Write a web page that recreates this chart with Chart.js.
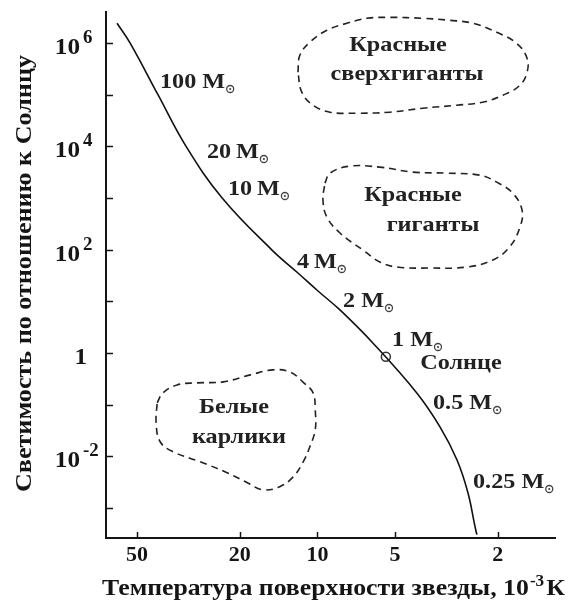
<!DOCTYPE html>
<html>
<head>
<meta charset="utf-8">
<script src="https://cdn.jsdelivr.net/npm/chart.js@4.4.1/dist/chart.umd.min.js"></script>
<style>
  html, body { margin: 0; padding: 0; background: #fff; }
</style>
</head>
<body>
<canvas id="hrChart" width="569" height="602"></canvas>
<script>
// main sequence: surface temperature (10^3 K) and luminosity (L sun)
const msTemp = [59.8, 53.2, 41.5, 32.3, 23.4, 15.0, 11.9, 9.95, 8.18, 6.10, 4.12, 3.35, 2.88, 2.61, 2.45, 2.41];
const msLum = [2.42e6, 1e6, 1e5, 1e4, 1e3, 98, 35.3, 15.8, 6.79, 1.56, 0.168, 0.037, 0.00852, 0.00196, 0.000431, 0.000302];

// the Sun
const sunTemp = [5.43];
const sunLum = [0.84];

// outlines of the giant / dwarf regions
const superTemp = [11.9, 11.7, 10.7, 9.19, 7.69, 6.43, 5.24, 3.90, 3.07, 2.50, 2.02, 1.69, 1.54, 1.54, 1.64, 1.91, 2.29, 2.88, 3.90, 5.24, 7.03, 8.94, 10.4, 11.5, 11.9];
const superLum = [2.72e5, 5.8e5, 1.04e6, 1.77e6, 2.42e6, 3.02e6, 3.15e6, 3.02e6, 2.76e6, 2.42e6, 1.62e6, 9.9e5, 5.08e5, 2.72e5, 1.53e5, 9.8e4, 7.16e4, 6.27e4, 5.48e4, 4.59e4, 4.39e4, 4.59e4, 6.27e4, 1.12e5, 2.72e5];

const giantTemp = [9.35, 8.94, 7.48, 5.73, 4.27, 3.15, 2.35, 2.02, 1.75, 1.61, 1.64, 1.80, 2.09, 2.64, 3.67, 4.92, 5.73, 6.66, 8.18, 9.19, 9.52, 9.35];
const giantLum = [1940, 3030, 4140, 3960, 3170, 3030, 2770, 2030, 1240, 583, 274, 112, 63, 46, 44, 46, 57.5, 98, 210, 427, 911, 1940];

const dwarfTemp = [41.8, 39.7, 35.0, 29.3, 23.2, 18.2, 14.9, 12.8, 11.4, 10.4, 10.2, 10.2, 10.7, 11.4, 12.4, 14.0, 16.3, 18.7, 22.4, 28.5, 36.3, 40.7, 42.2, 41.8];
const dwarfLum = [0.108, 0.168, 0.240, 0.263, 0.275, 0.375, 0.469, 0.429, 0.275, 0.168, 0.079, 0.0324, 0.0152, 0.00746, 0.0040, 0.00256, 0.00224, 0.00306, 0.00478, 0.0078, 0.0122, 0.019, 0.0443, 0.108];

// axes
const xTickValues = [50, 20, 10, 5, 2];
const yTickValues = [1e-3, 1e-2, 1e-1, 1, 1e1, 1e2, 1e3, 1e4, 1e5, 1e6];

// text
const massLabels = ['100 M', '20\u2009M', '10\u2009M', '4\u2009M', '2 M', '1 M', '0.5 M', '0.25 M'];
const regionNames = [['Красные', 'сверхгиганты'], ['Красные', 'гиганты'], ['Белые', 'карлики']];
const sunName = 'Солнце';
const yTitle = 'Светимость по отношению к Солнцу';
const xTitle = 'Температура поверхности звезды, 10';

const pts = (xs, ys) => xs.map((x, i) => ({ x: x, y: ys[i] }));
const FONT = '"Liberation Serif", "Times New Roman", serif';
const INK = '#151515';

function drawStretched(ctx, s, x, y, size, align, sx, color) {
  ctx.save();
  ctx.font = 'bold ' + size + 'px ' + FONT;
  ctx.fillStyle = color || INK;
  ctx.textAlign = 'left';
  ctx.textBaseline = 'alphabetic';
  const w = ctx.measureText(s).width * sx;
  const left = align === 'center' ? x - w / 2 : (align === 'right' ? x - w : x);
  ctx.translate(left, y);
  ctx.scale(sx, 1);
  ctx.fillText(s, 0, 0);
  ctx.restore();
  return left + w;
}

function sunSymbol(ctx, x, y) {
  ctx.save();
  ctx.strokeStyle = '#444';
  ctx.fillStyle = '#444';
  ctx.lineWidth = 1.3;
  ctx.beginPath();
  ctx.arc(x, y, 3.5, 0, Math.PI * 2);
  ctx.stroke();
  ctx.beginPath();
  ctx.arc(x, y, 1.1, 0, Math.PI * 2);
  ctx.fill();
  ctx.restore();
}

const decor = {
  id: 'decor',
  afterDraw(chart) {
    const ctx = chart.ctx;
    const xs = chart.scales.x, ys = chart.scales.y;
    const area = chart.chartArea;

    // inward tick marks
    ctx.save();
    ctx.strokeStyle = INK;
    ctx.lineWidth = 1.5;
    yTickValues.forEach(v => {
      const y = Math.round(ys.getPixelForValue(v)) + 0.5;
      ctx.beginPath();
      ctx.moveTo(area.left, y);
      ctx.lineTo(area.left + 7, y);
      ctx.stroke();
    });
    xTickValues.forEach(v => {
      const x = Math.round(xs.getPixelForValue(v)) + 0.5;
      ctx.beginPath();
      ctx.moveTo(x, area.bottom);
      ctx.lineTo(x, area.bottom - 6);
      ctx.stroke();
    });
    ctx.restore();

    // y tick labels: 10^n for even n
    yTickValues.forEach(v => {
      const exp = Math.round(Math.log10(v));
      if (exp % 2 !== 0) return;
      const y = ys.getPixelForValue(v);
      if (exp === 0) {
        drawStretched(ctx, '1', 87, y + 11, 24, 'right', 1.05);
      } else {
        drawStretched(ctx, '10', 80, y + 11, 24, 'right', 1.05);
        drawStretched(ctx, String(exp), 83, y, 18, 'left', 1.05);
      }
    });

    // axis titles
    ctx.save();
    ctx.font = 'bold 24px ' + FONT;
    const yw = ctx.measureText(yTitle).width;
    ctx.translate(31, 273.5);
    ctx.rotate(-Math.PI / 2);
    ctx.scale(437 / yw, 1);
    ctx.fillStyle = INK;
    ctx.textAlign = 'center';
    ctx.fillText(yTitle, 0, 0);
    ctx.restore();

    ctx.save();
    ctx.font = 'bold 24px ' + FONT;
    const w1 = ctx.measureText(xTitle).width;
    const wK = ctx.measureText('К').width;
    ctx.font = 'bold 16px ' + FONT;
    const wSup = ctx.measureText('-3').width;
    const sx = 463 / (w1 + wSup + 3 + wK);
    ctx.translate(102, 595);
    ctx.scale(sx, 1);
    ctx.fillStyle = INK;
    ctx.font = 'bold 24px ' + FONT;
    ctx.fillText(xTitle, 0, 0);
    ctx.fillText('К', w1 + wSup + 3, 0);
    ctx.font = 'bold 16px ' + FONT;
    ctx.fillText('-3', w1 + 1, -9);
    ctx.restore();

    // mass labels along the main sequence
    const massPos = [[160, 88], [207, 158], [228, 195], [297, 268], [343, 307], [392, 346], [433, 409], [473, 488]];
    massLabels.forEach((s, i) => {
      const [x, y] = massPos[i];
      const right = drawStretched(ctx, s, x, y, 22, 'left', 1.1, '#222');
      sunSymbol(ctx, right + 5, y + 1);
    });
    drawStretched(ctx, sunName, 461, 369, 22, 'center', 1.1, '#222');

    // region names
    const regionPos = [[[398, 51], [407, 80]], [[413, 201], [433, 231]], [[234, 413], [239, 443]]];
    regionNames.forEach((lines, i) => {
      lines.forEach((s, j) => {
        const [x, y] = regionPos[i][j];
        drawStretched(ctx, s, x, y, 22, 'center', 1.1, '#222');
      });
    });
  }
};

const dashed = {
  showLine: true,
  pointRadius: 0,
  borderColor: '#222',
  borderWidth: 1.6,
  borderDash: [7, 5],
  tension: 0.4,
  fill: false
};

new Chart(document.getElementById('hrChart'), {
  type: 'scatter',
  data: {
    datasets: [
      Object.assign({ data: pts(superTemp, superLum) }, dashed),
      Object.assign({ data: pts(giantTemp, giantLum) }, dashed),
      Object.assign({ data: pts(dwarfTemp, dwarfLum) }, dashed),
      {
        data: pts(msTemp, msLum),
        showLine: true,
        pointRadius: 0,
        borderColor: '#111',
        borderWidth: 1.6,
        tension: 0.4
      },
      {
        data: pts(sunTemp, sunLum),
        pointRadius: 4.5,
        pointBackgroundColor: '#fff',
        pointBorderColor: '#333',
        pointBorderWidth: 1.5
      }
    ]
  },
  options: {
    responsive: false,
    animation: false,
    devicePixelRatio: 1,
    layout: { padding: { top: 12, right: 14, left: 0, bottom: 0 } },
    plugins: {
      legend: { display: false },
      tooltip: { enabled: false }
    },
    scales: {
      x: {
        type: 'logarithmic',
        reverse: true,
        min: 1.2,
        max: 66,
        afterBuildTicks: s => { s.ticks = xTickValues.map(v => ({ value: v })); },
        afterFit: s => { s.height = 64; },
        grid: { drawOnChartArea: false, drawTicks: false },
        border: { color: INK, width: 2 },
        ticks: {
          autoSkip: false,
          maxRotation: 0,
          padding: 4,
          color: INK,
          font: { family: FONT, size: 22, weight: 'bold' },
          callback: v => String(v)
        }
      },
      y: {
        type: 'logarithmic',
        min: 2.6e-4,
        max: 4e6,
        afterBuildTicks: s => { s.ticks = yTickValues.map(v => ({ value: v })); },
        afterFit: s => { s.width = 106; },
        grid: { drawOnChartArea: false, drawTicks: false },
        border: { color: INK, width: 2 },
        ticks: { display: false }
      }
    }
  },
  plugins: [decor]
});
</script>
</body>
</html>
